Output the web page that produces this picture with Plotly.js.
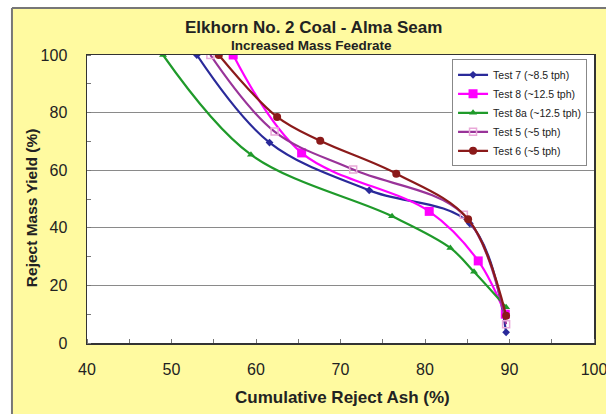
<!DOCTYPE html>
<html>
<head>
<meta charset="utf-8">
<script src="https://cdn.plot.ly/plotly-3.0.1.min.js"></script>
<style>html,body{margin:0;padding:0;background:#fff;}#chart{width:606px;height:414px;}</style>
</head>
<body>
<div id="chart"></div>
<script>
// Data
const seriesNames = ["Test 7 (~8.5 tph)", "Test 8 (~12.5 tph)", "Test 8a (~12.5 tph)", "Test 5 (~5 tph)", "Test 6 (~5 tph)"];
const test7Ash   = [53.0, 61.6, 73.4, 85.3, 89.6];
const test7Yield = [100, 69.6, 53.0, 41.5, 3.7];
const test8Ash   = [57.3, 65.4, 80.5, 86.3, 89.5];
const test8Yield = [100, 66.0, 45.7, 28.5, 10.0];
const test8aAsh   = [49.0, 59.4, 76.1, 83.0, 85.8, 89.6];
const test8aYield = [100, 65.4, 44.0, 33.0, 24.7, 12.4];
const test5Ash   = [54.6, 62.2, 71.5, 84.6, 89.6];
const test5Yield = [100, 73.4, 60.2, 44.5, 6.5];
const test6Ash   = [55.6, 62.5, 67.6, 76.6, 85.1, 89.6];
const test6Yield = [100, 78.5, 70.2, 58.8, 43.0, 9.5];
const xTicks = [40, 50, 60, 70, 80, 90, 100];
const yTicks = [0, 20, 40, 60, 80, 100];

const colors = ["#2a2a9a", "#ff00ff", "#1f9a2a", "#993399", "#8b1a1a"];
const symbols = ["diamond", "square", "triangle-up", "square-open", "circle"];
const sizes = [6, 9, 7, 7, 8];
const xs = [test7Ash, test8Ash, test8aAsh, test5Ash, test6Ash];
const ys = [test7Yield, test8Yield, test8aYield, test5Yield, test6Yield];

const traces = seriesNames.map((n, i) => ({
  x: xs[i], y: ys[i], name: n, type: "scatter", mode: "lines+markers",
  line: {color: colors[i], width: 2.2, shape: "spline", smoothing: 1},
  marker: {color: i === 3 ? "#e9a8d8" : colors[i], symbol: symbols[i], size: sizes[i],
           line: {color: colors[i], width: i === 3 ? 1.5 : 0}}
}));

const bx = -0.148, by = 1.163;
const txt = "#222";
const layout = {
  width: 606, height: 414,
  paper_bgcolor: "#fffaa0", plot_bgcolor: "#ffffff",
  margin: {l: 87, r: 12, t: 55, b: 71},
  font: {family: "Liberation Sans, Arial, sans-serif", color: txt},
  annotations: [
    {text: "<b>Elkhorn No. 2 Coal - Alma Seam</b>", xref: "paper", yref: "paper",
     x: 0.446, y: 1.094, xanchor: "center", yanchor: "middle", showarrow: false,
     font: {size: 17, color: txt}},
    {text: "<b>Increased Mass Feedrate</b>", xref: "paper", yref: "paper",
     x: 0.442, y: 1.034, xanchor: "center", yanchor: "middle", showarrow: false,
     font: {size: 13.5, color: txt}},
    {text: "<b>Cumulative Reject Ash (%)</b>", xref: "paper", yref: "paper",
     x: 0.503, y: -0.19, xanchor: "center", yanchor: "middle", showarrow: false,
     font: {size: 17, color: txt}},
    {text: "<b>Reject Mass Yield (%)</b>", xref: "paper", yref: "paper", textangle: -90,
     x: -0.108, y: 0.469, xanchor: "center", yanchor: "middle", showarrow: false,
     font: {size: 15.5, color: txt}}
  ],
  xaxis: {range: [40, 100], tickvals: xTicks, ticktext: xTicks.map(String),
          ticks: "", showgrid: false, zeroline: false, ticklabelstandoff: 11, ticklabeloverflow: "allow",
          showline: true, linecolor: "#333", linewidth: 1.5, mirror: true,
          minor: {dtick: 5, tick0: 40, ticks: "inside", ticklen: 4, tickcolor: "#777", showgrid: false},
          tickfont: {size: 16, color: txt}},
  yaxis: {range: [0, 100], tickvals: yTicks, ticktext: yTicks.map(String),
          ticks: "", showgrid: true, gridcolor: "#8a8a8a", gridwidth: 1, zeroline: false, ticklabelstandoff: 15,
          showline: true, linecolor: "#333", linewidth: 1.5, mirror: true,
          minor: {dtick: 10, tick0: 0, ticks: "inside", ticklen: 4, tickcolor: "#777", showgrid: false},
          tickfont: {size: 16, color: txt}},
  legend: {x: 0.72, y: 0.985, xanchor: "left", yanchor: "top",
           bgcolor: "#ffffff", bordercolor: "#888", borderwidth: 1,
           font: {size: 10.5, color: txt}, tracegroupgap: 0, itemwidth: 30},
  showlegend: true,
  shapes: [
    {type: "rect", xref: "paper", yref: "paper", x0: -1, x1: 2, y0: by, y1: 2, fillcolor: "#ffffff", line: {width: 0}},
    {type: "rect", xref: "paper", yref: "paper", x0: -1, x1: bx, y0: -1, y1: 2, fillcolor: "#ffffff", line: {width: 0}},
    {type: "line", xref: "paper", yref: "paper", x0: bx, x1: bx, y0: -0.3, y1: by, line: {color: "#777", width: 2}},
    {type: "line", xref: "paper", yref: "paper", x0: bx, x1: 1.1, y0: by, y1: by, line: {color: "#777", width: 2}}
  ]
};
Plotly.newPlot("chart", traces, layout, {displayModeBar: false, staticPlot: true});
</script>
</body>
</html>
